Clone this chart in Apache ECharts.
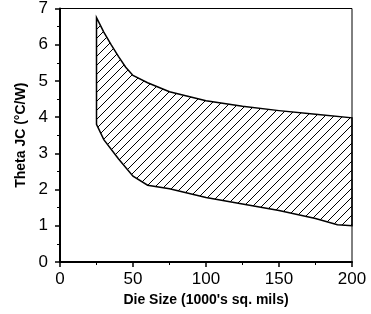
<!DOCTYPE html>
<html>
<head>
<meta charset="utf-8">
<script src="https://cdn.jsdelivr.net/npm/echarts@6/dist/echarts.min.js"></script>
<style>
  html, body { margin: 0; padding: 0; background: #fff; }
  #chart { width: 371px; height: 314px; }
</style>
</head>
<body>
<div id="chart"></div>
<script>
// upper edge of the band (worst case)
var upperX = [25, 30, 35, 40, 45, 50, 60, 75, 100, 125, 150, 175, 200];
var upperY = [6.75, 6.35, 6.0, 5.68, 5.38, 5.15, 4.95, 4.7, 4.45, 4.3, 4.18, 4.08, 3.98];
// lower edge of the band (best case)
var lowerX = [25, 30, 40, 50, 60, 75, 100, 125, 150, 175, 190, 200];
var lowerY = [3.8, 3.38, 2.85, 2.37, 2.12, 2.02, 1.78, 1.6, 1.42, 1.2, 1.03, 1.0];
var xTicks = [0, 50, 100, 150, 200];
var yTicks = [0, 1, 2, 3, 4, 5, 6, 7];

// diagonal hatch
function hatch(size) {
  var c = document.createElement("canvas");
  c.width = size;
  c.height = size;
  var ctx = c.getContext("2d");
  ctx.strokeStyle = "#000";
  ctx.lineWidth = 1;
  ctx.beginPath();
  ctx.moveTo(-1, size + 1);
  ctx.lineTo(size + 1, -1);
  ctx.moveTo(-1, 1);
  ctx.lineTo(1, -1);
  ctx.moveTo(size - 1, size + 1);
  ctx.lineTo(size + 1, size - 1);
  ctx.stroke();
  return c;
}

var chart = echarts.init(document.getElementById("chart"));
var font = "Liberation Sans, Arial, sans-serif";

chart.setOption({
  animation: false,
  grid: {
    left: 60, right: 19, top: 6, bottom: 52,
    show: true, borderColor: "#000", borderWidth: 1
  },
  xAxis: {
    type: "value",
    min: xTicks[0], max: xTicks[xTicks.length - 1], interval: 50,
    name: "Die Size (1000's sq. mils)",
    nameLocation: "middle", nameGap: 31,
    nameTextStyle: { fontFamily: font, fontSize: 14, fontWeight: "bold", color: "#000" },
    axisLine: { lineStyle: { color: "#000", width: 2 } },
    axisTick: { length: 5, lineStyle: { color: "#000", width: 1.5 } },
    minorTick: { show: true, splitNumber: 2, length: 3, lineStyle: { color: "#000" } },
    axisLabel: { fontFamily: font, fontSize: 17, color: "#000", margin: 9 },
    splitLine: { show: false }
  },
  yAxis: {
    type: "value",
    min: yTicks[0], max: yTicks[yTicks.length - 1], interval: 1,
    name: "Theta JC (\u00b0C/W)",
    nameLocation: "middle", nameGap: 32,
    nameTextStyle: { fontFamily: font, fontSize: 14, fontWeight: "bold", color: "#000" },
    axisLine: { lineStyle: { color: "#000", width: 2 } },
    axisTick: { length: 5, lineStyle: { color: "#000", width: 1.5 } },
    minorTick: { show: true, splitNumber: 2, length: 3, lineStyle: { color: "#000" } },
    axisLabel: { fontFamily: font, fontSize: 17, color: "#000", margin: 12 },
    splitLine: { show: false }
  },
  series: [{
    type: "custom",
    data: [[upperX[0], upperY[0]]],
    renderItem: function (params, api) {
      var pts = [];
      for (var i = 0; i < upperX.length; i++) pts.push(api.coord([upperX[i], upperY[i]]));
      for (var j = lowerX.length - 1; j >= 0; j--) pts.push(api.coord([lowerX[j], lowerY[j]]));
      return {
        type: "polygon",
        shape: { points: pts },
        style: {
          fill: { image: hatch(9), repeat: "repeat" },
          stroke: "#000",
          lineWidth: 1.5
        }
      };
    }
  }]
});
</script>
</body>
</html>
